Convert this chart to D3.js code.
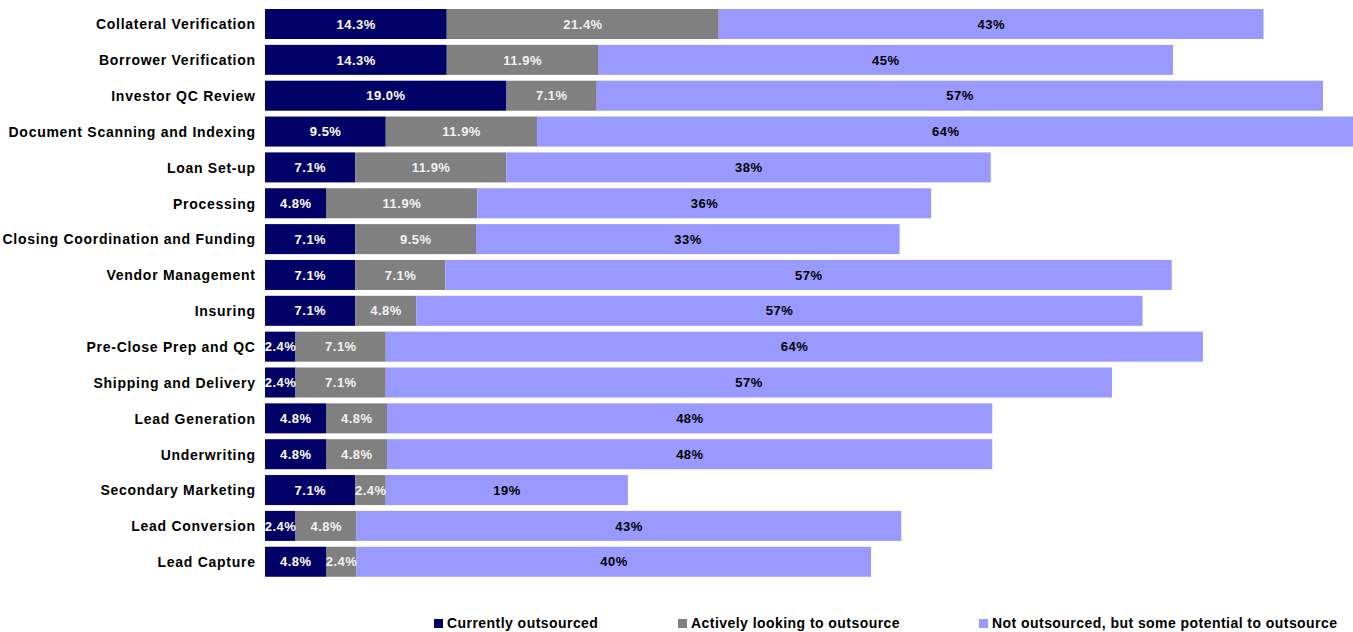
<!DOCTYPE html>
<html>
<head>
<meta charset="utf-8">
<script src="https://cdn.jsdelivr.net/npm/d3@7"></script>
<style>
  html, body { margin: 0; padding: 0; background: #fff; }
  svg { display: block; font-family: "Liberation Sans", Arial, sans-serif; }
</style>
</head>
<body>
<svg id="chart" width="1353" height="632"></svg>
<script>
// Share of respondents by process area (%)
const categories = [
  "Collateral Verification", "Borrower Verification", "Investor QC Review",
  "Document Scanning and Indexing", "Loan Set-up", "Processing",
  "Closing Coordination and Funding", "Vendor Management", "Insuring",
  "Pre-Close Prep and QC", "Shipping and Delivery", "Lead Generation",
  "Underwriting", "Secondary Marketing", "Lead Conversion", "Lead Capture"
];
const currentlyOutsourced = [14.3, 14.3, 19.0, 9.5, 7.1, 4.8, 7.1, 7.1, 7.1, 2.4, 2.4, 4.8, 4.8, 7.1, 2.4, 4.8];
const activelyLooking     = [21.4, 11.9, 7.1, 11.9, 11.9, 11.9, 9.5, 7.1, 4.8, 7.1, 7.1, 4.8, 4.8, 2.4, 4.8, 2.4];
const somePotential       = [42.86, 45.24, 57.14, 64.29, 38.10, 35.71, 33.33, 57.14, 57.14, 64.29, 57.14, 47.62, 47.62, 19.05, 42.86, 40.48];
const seriesNames = [
  "Currently outsourced",
  "Actively looking to outsource",
  "Not outsourced, but some potential to outsource"
];

const keys = ["s0", "s1", "s2"];
const colors = ["#000066", "#808080", "#9999FF"];
const labelColors = ["#ffffff", "#f2f2f2", "#000000"];
const labelFormats = [d3.format(".1f"), d3.format(".1f"), d3.format(".0f")];

const svg = d3.select("#chart");

const x = d3.scaleLinear().domain([0, 100]).range([265, 1536]);
const y = d3.scaleBand()
  .domain(categories)
  .range([6.08, 579.68])
  .paddingInner(0.163)
  .paddingOuter(0.0815);

const rows = categories.map((c, i) => ({
  category: c,
  s0: currentlyOutsourced[i],
  s1: activelyLooking[i],
  s2: somePotential[i]
}));
const stacked = d3.stack().keys(keys)(rows);

const layers = svg.append("g")
  .selectAll("g")
  .data(stacked)
  .join("g")
  .attr("fill", (d, i) => colors[i]);

layers.selectAll("rect")
  .data(d => d)
  .join("rect")
  .attr("x", d => x(d[0]))
  .attr("y", d => y(d.data.category))
  .attr("width", d => x(d[1]) - x(d[0]))
  .attr("height", y.bandwidth());

// Value labels, centred in each segment
stacked.forEach((layer, si) => {
  svg.append("g")
    .selectAll("text")
    .data(layer)
    .join("text")
    .attr("x", d => (x(d[0]) + x(d[1])) / 2 + 0.25)
    .attr("y", d => y(d.data.category) + y.bandwidth() / 2)
    .attr("dy", "0.36em")
    .attr("text-anchor", "middle")
    .attr("fill", labelColors[si])
    .style("font-size", "13px")
    .style("font-weight", "bold")
    .style("letter-spacing", "0.5px")
    .text(d => labelFormats[si](d.data[keys[si]]) + "%");
});

// Category axis
const yAxis = svg.append("g")
  .attr("transform", "translate(255.7,0)")
  .call(d3.axisLeft(y).tickSize(0).tickPadding(0));
yAxis.select(".domain").remove();
yAxis.selectAll("text")
  .attr("fill", "#000")
  .attr("dy", "0.38em")
  .style("font-size", "14px")
  .style("font-weight", "bold")
  .style("letter-spacing", "0.72px")
  .style("font-family", "'Liberation Sans', Arial, sans-serif");

// Legend
const legendX = [434, 678, 979];
const legend = svg.append("g")
  .selectAll("g")
  .data(seriesNames)
  .join("g")
  .attr("transform", (d, i) => `translate(${legendX[i]},618)`);
legend.append("rect")
  .attr("width", 9)
  .attr("height", 9)
  .attr("y", 1)
  .attr("fill", (d, i) => colors[i]);
legend.append("text")
  .attr("x", 13)
  .attr("y", 10)
  .attr("fill", "#000")
  .style("font-size", "14px")
  .style("font-weight", "bold")
  .style("letter-spacing", "0.45px")
  .text(d => d);
</script>
</body>
</html>
